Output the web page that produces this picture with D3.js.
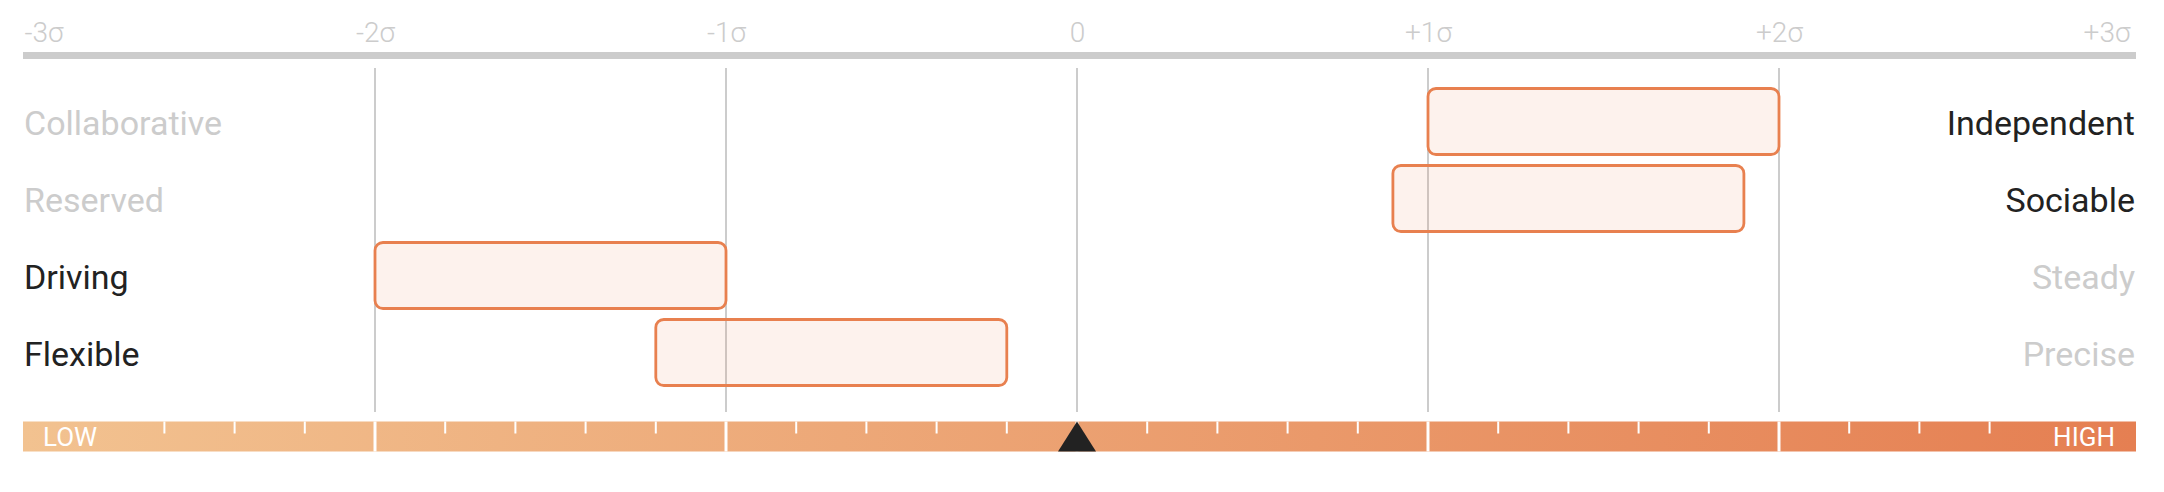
<!DOCTYPE html>
<html>
<head>
<meta charset="utf-8">
<script src="https://cdn.jsdelivr.net/npm/d3@7"></script>
<style>
  body { margin: 0; background: #fff; }
  svg { display: block; font-family: Roboto, "Noto Sans", sans-serif; }
</style>
</head>
<body>
<svg id="chart" width="2164" height="492"></svg>
<script>
// traits, left and right pole of each row
const leftLabels = ["Collaborative", "Reserved", "Driving", "Flexible"];
const rightLabels = ["Independent", "Sociable", "Steady", "Precise"];
// range of each row, in sigma
const rangeLow = [1.0, 0.9, -2.0, -1.2];
const rangeHigh = [2.0, 1.9, -1.0, -0.2];
// top axis ticks
const sigmaTicks = [-3, -2, -1, 0, 1, 2, 3];
// marker on the low/high bar
const markerValue = [0];
const scaleLabels = ["LOW", "HIGH"];

const width = 2164;
const left = 23, right = 2136;

const svg = d3.select("#chart");

const x = d3.scaleLinear().domain([-3, 3]).range([24, 2130]);
const y = d3.scalePoint().domain(leftLabels).range([121.5, 352.5]);

const grey = "#cccccc", dark = "#222222", orange = "#e8804f";

// gradient for the bottom bar
const grad = svg.append("defs").append("linearGradient")
  .attr("id", "lowhigh").attr("x1", "0%").attr("x2", "100%");
grad.append("stop").attr("offset", "0%").attr("stop-color", "#f2c290");
grad.append("stop").attr("offset", "100%").attr("stop-color", "#e57f52");

// top axis
const fmt = v => v === 0 ? "0" : (v > 0 ? "+" : "-") + Math.abs(v) + "σ";
const xAxis = svg.append("g")
  .attr("transform", "translate(0,42)")
  .call(d3.axisTop(x).tickValues(sigmaTicks).tickFormat(fmt).tickSize(0).tickPadding(0))
  .call(g => g.select(".domain").remove());
xAxis.selectAll("text")
  .attr("fill", grey)
  .attr("font-size", 28)
  .attr("font-weight", 300)
  .attr("font-family", "Roboto")
  .attr("text-anchor", d => d === -3 ? "start" : d === 3 ? "end" : "middle");

svg.append("rect")
  .attr("x", left).attr("y", 52)
  .attr("width", right - left).attr("height", 7)
  .attr("fill", grey);

// grid lines
svg.append("g").selectAll("line")
  .data(sigmaTicks.filter(d => d > -3 && d < 3))
  .join("line")
  .attr("x1", d => x(d)).attr("x2", d => x(d))
  .attr("y1", 68).attr("y2", 412)
  .attr("stroke", grey).attr("stroke-width", 2);

// range boxes
svg.append("g").selectAll("rect")
  .data(leftLabels)
  .join("rect")
  .attr("x", (d, i) => x(rangeLow[i]))
  .attr("width", (d, i) => x(rangeHigh[i]) - x(rangeLow[i]))
  .attr("y", d => y(d) - 33)
  .attr("height", 66)
  .attr("rx", 8)
  .attr("fill", orange).attr("fill-opacity", 0.1)
  .attr("stroke", orange).attr("stroke-width", 2.8);

// row labels, the side the range leans to is dark
const side = i => (rangeLow[i] + rangeHigh[i]) / 2 > 0 ? "right" : "left";

svg.append("g").selectAll("text")
  .data(leftLabels)
  .join("text")
  .attr("x", left + 1)
  .attr("y", d => y(d) + 13.5)
  .attr("font-size", 34)
  .attr("fill", (d, i) => side(i) === "left" ? dark : grey)
  .text(d => d);

svg.append("g").selectAll("text")
  .data(rightLabels)
  .join("text")
  .attr("x", right - 1)
  .attr("y", (d, i) => y(leftLabels[i]) + 13.5)
  .attr("text-anchor", "end")
  .attr("font-size", 34)
  .attr("fill", (d, i) => side(i) === "right" ? dark : grey)
  .text(d => d);

// low / high bar
const barTop = 421.5, barH = 30;
svg.append("rect")
  .attr("x", left).attr("y", barTop)
  .attr("width", right - left).attr("height", barH)
  .attr("fill", "url(#lowhigh)");

// minor ticks every 0.2 sigma, skipped under the LOW / HIGH words
const minor = d3.range(-3, 3.001, 0.2)
  .map(v => Math.round(v * 10) / 10)
  .filter(v => Math.abs(v - Math.round(v)) > 0.01 && Math.abs(v) < 2.7);
svg.append("g").selectAll("line")
  .data(minor)
  .join("line")
  .attr("x1", d => x(d)).attr("x2", d => x(d))
  .attr("y1", barTop).attr("y2", barTop + 12)
  .attr("stroke", "#fff").attr("stroke-width", 2);

svg.append("g").selectAll("line")
  .data(sigmaTicks.filter(d => d > -3 && d < 3))
  .join("line")
  .attr("x1", d => x(d)).attr("x2", d => x(d))
  .attr("y1", barTop).attr("y2", barTop + barH)
  .attr("stroke", "#fff").attr("stroke-width", 3);

svg.append("text")
  .attr("x", left + 20).attr("y", 446)
  .attr("font-size", 26).attr("fill", "#fff")
  .text(scaleLabels[0]);
svg.append("text")
  .attr("x", right - 21).attr("y", 446)
  .attr("text-anchor", "end")
  .attr("font-size", 26).attr("fill", "#fff")
  .text(scaleLabels[1]);

// marker triangle
svg.append("g").selectAll("path")
  .data(markerValue)
  .join("path")
  .attr("d", d => `M${x(d)},${barTop} L${x(d) + 19},${barTop + barH} L${x(d) - 19},${barTop + barH} Z`)
  .attr("fill", dark);
</script>
</body>
</html>
